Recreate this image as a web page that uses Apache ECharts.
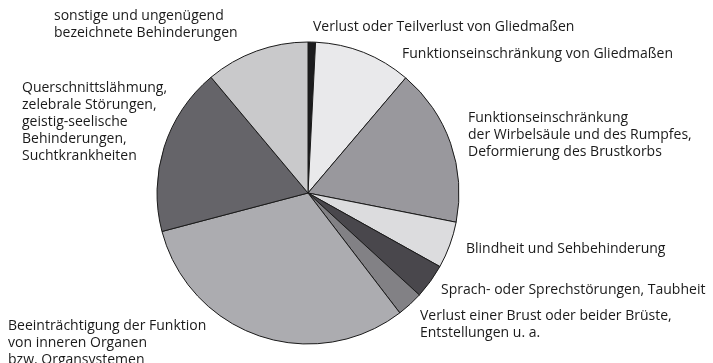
<!DOCTYPE html>
<html>
<head>
<meta charset="utf-8">
<script src="https://cdn.jsdelivr.net/npm/echarts@6/dist/echarts.min.js"></script>
<style>
  html, body { margin: 0; padding: 0; background: #fff; }
  #chart { width: 713px; height: 363px; }
</style>
</head>
<body>
<div id="chart"></div>
<script>
// Schwerbehinderte nach Art der schwersten Behinderung (Anteile in %)
const categories = [
  'Verlust oder Teilverlust von Gliedmaßen',
  'Funktionseinschränkung von Gliedmaßen',
  'Funktionseinschränkung\nder Wirbelsäule und des Rumpfes,\nDeformierung des Brustkorbs',
  'Blindheit und Sehbehinderung',
  'Sprach- oder Sprechstörungen, Taubheit',
  'Verlust einer Brust oder beider Brüste,\nEntstellungen u. a.',
  'Beeinträchtigung der Funktion\nvon inneren Organen\nbzw. Organsystemen',
  'Querschnittslähmung,\nzelebrale Störungen,\ngeistig-seelische\nBehinderungen,\nSuchtkrankheiten',
  'sonstige und ungenügend\nbezeichnete Behinderungen'
];
const shares = [0.8, 10.4, 16.9, 5.0, 3.7, 2.8, 31.3, 18.0, 11.1];

// slice fills, in the same order as the categories
const fills = ['#1c1c1e', '#e9e9eb', '#99989d', '#dcdcde', '#49474c', '#828185', '#acacb0', '#656469', '#c9c9cb'];
// top-left anchor of each label block
const labelAnchors = [
  [313, 19], [402, 46], [468, 110], [466, 241], [441, 282],
  [420, 308], [8, 318], [22, 80], [54, 8]
];

const chart = echarts.init(document.getElementById('chart'), null, { renderer: 'canvas' });
chart.setOption({
  animation: false,
  series: [{
    type: 'pie',
    center: [308, 193],
    radius: [0, 151],
    startAngle: 90,
    clockwise: true,
    avoidLabelOverlap: false,
    data: categories.map((name, i) => ({
      name: name,
      value: shares[i],
      itemStyle: { color: fills[i] }
    })),
    itemStyle: { borderColor: '#1a1a1a', borderWidth: 1 },
    label: {
      show: true,
      position: 'outside',
      formatter: '{b}',
      fontFamily: 'Open Sans',
      fontSize: 14,
      lineHeight: 16.8,
      color: '#1a1a1a',
      align: 'left'
    },
    labelLine: { show: false },
    labelLayout: function (p) {
      const a = labelAnchors[p.dataIndex];
      return { x: a[0], y: a[1], align: 'left', verticalAlign: 'top' };
    },
    emphasis: { disabled: true }
  }]
});
</script>
</body>
</html>
